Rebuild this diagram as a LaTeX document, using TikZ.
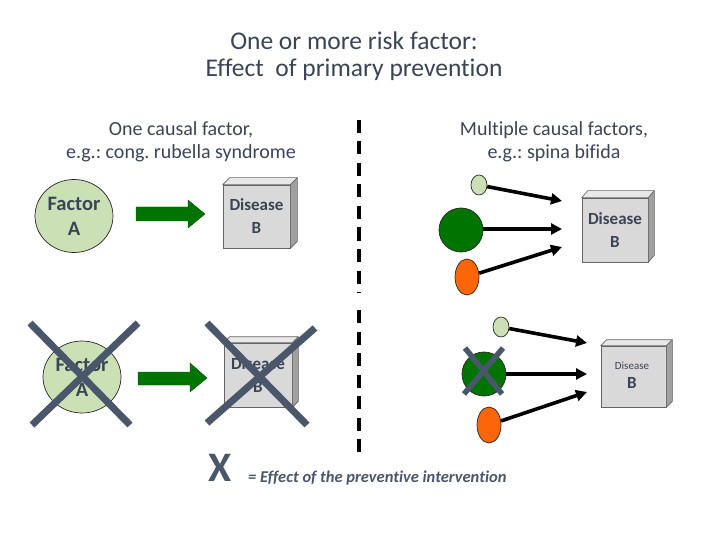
\documentclass[tikz,border=0pt]{standalone}
\usepackage{fontspec}
\setmainfont{Carlito}[Ligatures=NoCommon]
\usetikzlibrary{arrows.meta,shapes.geometric}
\frenchspacing
\definecolor{txt}{RGB}{59,68,85}
\definecolor{slate}{RGB}{74,86,106}
\definecolor{lgreen}{RGB}{204,224,182}
\definecolor{dgreen}{RGB}{0,116,0}
\definecolor{orng}{RGB}{252,102,8}
\definecolor{bfront}{RGB}{217,217,217}
\definecolor{btop}{RGB}{232,232,232}
\definecolor{bside}{RGB}{160,160,160}
\definecolor{bedge}{RGB}{100,100,100}
\tikzset{
  lbl/.style={text=txt, align=center, inner sep=0pt},
  factorc/.style={ellipse, draw=black!85, line width=0.7pt, fill=lgreen, inner sep=0pt, text=txt, align=center},
  bfr/.style={rectangle, draw=bedge, line width=0.6pt, fill=bfront, inner sep=0pt, text=txt, align=center},
  btopface/.style={fill=btop, draw=bedge, line width=0.6pt, line join=round},
  bsideface/.style={fill=bside, draw=bedge, line width=0.6pt, line join=round},
  blockarrow/.style={fill=dgreen, draw=dgreen!70!black, line width=0.4pt},
  crossline/.style={draw=slate, line width=7pt},
  smallcross/.style={draw=slate, line width=5.5pt},
  causal/.style={draw=black, line width=3.6pt, -{Triangle[length=11pt,width=11pt]}},
  sep/.style={draw=black, line width=4pt, dash pattern=on 13pt off 8.5pt},
  riskc/.style={ellipse, draw=black!85, line width=0.7pt, inner sep=0pt},
}
\begin{document}
\begin{tikzpicture}[x=1pt,y=-1pt]
\useasboundingbox (0,0) rectangle (720,540);
% titles
\node[lbl, font=\fontsize{25.5}{27}\selectfont] (title) at (354,56.5) {One or more risk factor:\\Effect\ \ of primary prevention};
\node[lbl, font=\fontsize{20}{23}\selectfont] (subL) at (181,141.5) {One causal factor,\\e.g.: cong. rubella syndrome};
\node[lbl, font=\fontsize{20}{23}\selectfont] (subR) at (554,141.5) {Multiple causal factors,\\e.g.: spina bifida};
% separator
\draw[sep] (359,120) -- (359,293);
\draw[sep] (359,310) -- (359,458);
% ---- left top
\node[factorc, minimum width=78pt, minimum height=73pt, font=\bfseries\fontsize{20.5}{25}\selectfont] (fa1) at (74,216) {Factor\\A};
\fill[blockarrow] (136,207) -- (188,207) -- (188,200) -- (205,214) -- (188,228) -- (188,221) -- (136,221) -- cycle;
\node[bfr, minimum width=67pt, minimum height=63pt, font=\bfseries\fontsize{17}{23}\selectfont] (db1) at (256.5,216.5) {Disease\\B};
\filldraw[btopface] (db1.north west) -- ++(7,-7) -- ([shift={(7,-7)}]db1.north east) -- (db1.north east) -- cycle;
\filldraw[bsideface] (db1.north east) -- ++(7,-7) -- ([shift={(7,-7)}]db1.south east) -- (db1.south east) -- cycle;
% ---- left bottom
\node[factorc, minimum width=78pt, minimum height=72pt, font=\bfseries\fontsize{20.5}{25}\selectfont] (fa2) at (82,377) {Factor\\A};
\fill[blockarrow] (138,372) -- (190,372) -- (190,363) -- (207,378) -- (190,392) -- (190,385) -- (138,385) -- cycle;
\node[bfr, minimum width=68pt, minimum height=64pt, font=\bfseries\fontsize{17}{23}\selectfont] (db2) at (258,375) {Disease\\B};
\filldraw[btopface] (db2.north west) -- ++(6,-6) -- ([shift={(6,-6)}]db2.north east) -- (db2.north east) -- cycle;
\filldraw[bsideface] (db2.north east) -- ++(6,-6) -- ([shift={(6,-6)}]db2.south east) -- (db2.south east) -- cycle;
\draw[crossline] (30,323) -- (130,425);
\draw[crossline] (138,323) -- (32,425);
\draw[crossline] (207,323) -- (307,425);
\draw[crossline] (315,328) -- (207,423);
% ---- right top
\node[riskc, fill=lgreen, minimum width=16pt, minimum height=20pt] (s1) at (479,185) {};
\node[riskc, fill=dgreen, minimum width=44pt, minimum height=44pt] (g1) at (461,230) {};
\node[riskc, fill=orng, minimum width=24pt, minimum height=36pt] (o1) at (467,277) {};
\node[bfr, minimum width=66pt, minimum height=64pt, font=\bfseries\fontsize{17}{23}\selectfont] (db3) at (615,230) {Disease\\B};
\filldraw[btopface] (db3.north west) -- ++(6,-7) -- ([shift={(6,-7)}]db3.north east) -- (db3.north east) -- cycle;
\filldraw[bsideface] (db3.north east) -- ++(6,-7) -- ([shift={(6,-7)}]db3.south east) -- (db3.south east) -- cycle;
\coordinate (e1) at (562,201);
\coordinate (e2) at (562,229);
\coordinate (e3) at (562,247);
\draw[causal] (s1) -- (e1);
\draw[causal] (g1.east |- e2) -- (e2);
\draw[causal] (o1) -- (e3);
% ---- right bottom
\node[riskc, fill=lgreen, minimum width=16pt, minimum height=20pt] (s2) at (501,327) {};
\node[riskc, fill=dgreen, minimum width=44pt, minimum height=44pt] (g2) at (484,374) {};
\node[riskc, fill=orng, minimum width=24pt, minimum height=36pt] (o2) at (489,425) {};
\node[bfr, minimum width=65pt, minimum height=61pt] (db4) at (633.5,376.5) {};
\filldraw[btopface] (db4.north west) -- ++(6,-6) -- ([shift={(6,-6)}]db4.north east) -- (db4.north east) -- cycle;
\filldraw[bsideface] (db4.north east) -- ++(6,-6) -- ([shift={(6,-6)}]db4.south east) -- (db4.south east) -- cycle;
\node[lbl, font=\fontsize{11}{12}\selectfont] (dis4) at (632,366) {Disease};
\node[lbl, font=\bfseries\fontsize{17}{18}\selectfont] (b4) at (632,383) {B};
\coordinate (f1) at (587,343);
\coordinate (f2) at (587,374);
\coordinate (f3) at (587,392);
\draw[causal] (s2) -- (f1);
\draw[causal] (g2.east |- f2) -- (f2);
\draw[causal] (o2) -- (f3);
\draw[smallcross] (465,348) -- (502,394);
\draw[smallcross] (503,348) -- (464,394);
% ---- legend
\node[lbl, text=slate, font=\bfseries\fontsize{42}{44}\selectfont] (bigx) at (220.5,468) {X};
\node[lbl, anchor=west, text=slate, font=\bfseries\itshape\fontsize{16.5}{18}\selectfont] (legend) at (248,478) {= Effect of the preventive intervention};
\end{tikzpicture}
\end{document}
